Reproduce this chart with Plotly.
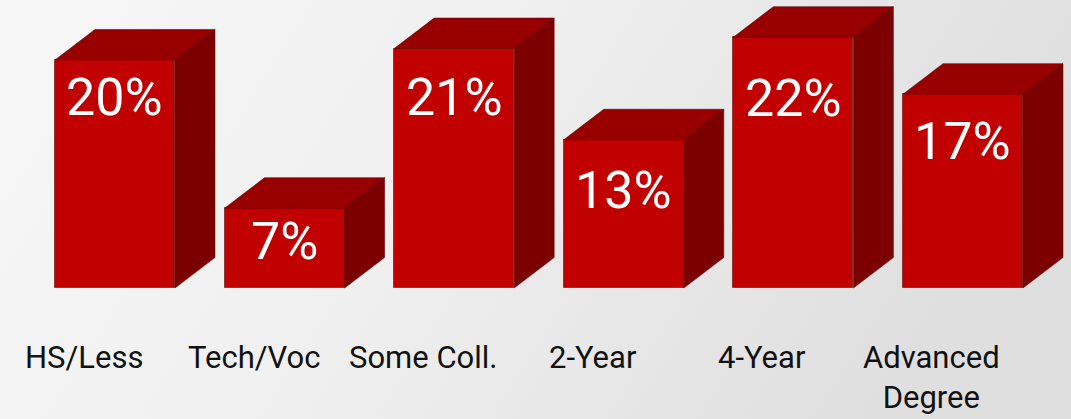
import base64
import plotly.graph_objects as go

# ---- data ----
categories = ["HS/Less", "Tech/Voc", "Some Coll.", "2-Year", "4-Year", "Advanced<br>Degree"]
values = [20, 7, 21, 13, 22, 17]
value_labels = ["20%", "7%", "21%", "13%", "22%", "17%"]

# ---- style / layout constants ----
W, H = 1071, 419
XR = [-0.678, 5.637]
YR = [-11.49, 25.26]
BAR_W = 0.7075
DEPTH_PX = (40, 30.5)
LABEL_DROP_PX = [38, 33, 49, 51, 61, 47]   # distance of % label centre below bar top
CAT_LABEL_TOP_PX = 337
CAT_XSHIFT = -31
FRONT = "#c10000"
TOP = "#980000"
SIDE = "#7d0000"
EDGE = "rgba(90,0,0,0.55)"

xs_per_px = (XR[1] - XR[0]) / W
ys_per_px = (YR[1] - YR[0]) / H
dx = DEPTH_PX[0] * xs_per_px
dy = DEPTH_PX[1] * ys_per_px
xpos = list(range(len(categories)))


def px_to_y(py):
    return YR[1] - py * ys_per_px


fig = go.Figure()

# top faces and side faces built from values
tx, ty, sx, sy = [], [], [], []
for x, v in zip(xpos, values):
    l, r = x - BAR_W / 2, x + BAR_W / 2
    tx += [l, l + dx, r + dx, r, l, None]
    ty += [v, v + dy, v + dy, v, v, None]
    sx += [r, r, r + dx, r + dx, r, None]
    sy += [0, v, v + dy, dy, 0, None]

fig.add_trace(go.Bar(x=xpos, y=values, width=BAR_W, marker=dict(color=FRONT, line=dict(color=EDGE, width=1)),
                     hoverinfo="skip", showlegend=False))
fig.add_trace(go.Scatter(x=tx, y=ty, mode="lines", fill="toself", fillcolor=TOP,
                         line=dict(color=EDGE, width=1), hoverinfo="skip", showlegend=False))
fig.add_trace(go.Scatter(x=sx, y=sy, mode="lines", fill="toself", fillcolor=SIDE,
                         line=dict(color=EDGE, width=1), hoverinfo="skip", showlegend=False))

annotations = []
for x, v, lab, drop in zip(xpos, values, value_labels, LABEL_DROP_PX):
    annotations.append(dict(x=x, y=v, text=lab, showarrow=False, xanchor="center", yanchor="middle",
                            yshift=-drop, font=dict(family="Roboto", size=52, color="white")))
for x, c in zip(xpos, categories):
    annotations.append(dict(x=x, y=px_to_y(CAT_LABEL_TOP_PX), text=c, showarrow=False, xanchor="center",
                            yanchor="top", xshift=CAT_XSHIFT, align="center",
                            font=dict(family="Roboto", size=31, color="#111111")))

svg = ('<svg xmlns="http://www.w3.org/2000/svg" width="1071" height="419">'
       '<defs><linearGradient id="g" x1="0" y1="0" x2="1" y2="0.25">'
       '<stop offset="0" stop-color="#f7f7f7"/><stop offset="0.45" stop-color="#f0f0f0"/>'
       '<stop offset="1" stop-color="#dfdfdf"/></linearGradient></defs>'
       '<rect width="1071" height="419" fill="url(#g)"/></svg>')
bg = "data:image/svg+xml;base64," + base64.b64encode(svg.encode()).decode()

fig.update_layout(
    width=W, height=H,
    margin=dict(l=0, r=0, t=0, b=0),
    paper_bgcolor="#eeeeee",
    plot_bgcolor="rgba(0,0,0,0)",
    xaxis=dict(range=XR, visible=False, fixedrange=True),
    yaxis=dict(range=YR, visible=False, fixedrange=True),
    annotations=annotations,
    images=[dict(source=bg, xref="paper", yref="paper", x=0, y=1, sizex=1, sizey=1,
                 sizing="stretch", layer="below", xanchor="left", yanchor="top")],
    bargap=0,
)

fig.write_html("out.html", config={"displayModeBar": False},
               post_script="document.body.style.margin='0';document.body.style.overflow='hidden';")
